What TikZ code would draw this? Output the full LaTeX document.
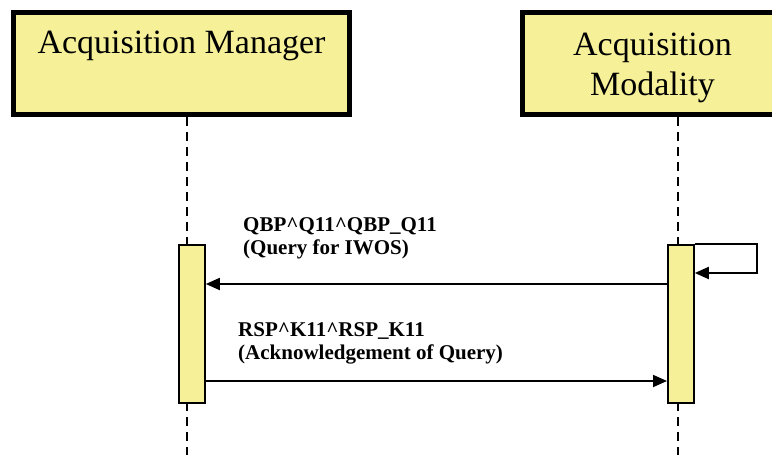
\documentclass[tikz,border=0pt]{standalone}
\usepackage{fontspec}
\setmainfont{Liberation Serif}
\usetikzlibrary{arrows.meta}
\definecolor{boxyellow}{RGB}{246,241,152}

\begin{document}
\begin{tikzpicture}[x=1pt,y=-1pt]
  \tikzset{actor/.style={draw,line width=4.5pt,fill=boxyellow,align=center,inner sep=0pt,font=\fontsize{34}{40}\selectfont},
    activation/.style={draw,line width=1.8pt,fill=boxyellow,anchor=north west,minimum width=26pt,minimum height=158pt,inner sep=0pt},
    lifeline/.style={line width=1.8pt,dash pattern=on 9pt off 6pt},
    msg/.style={line width=1.8pt,-{Triangle[length=14pt,width=12pt]}},
    msglabel/.style={anchor=north west,align=left,inner sep=0pt,font=\fontsize{21}{23}\selectfont\bfseries}}
  \useasboundingbox (0,0) rectangle (772,455);
  \clip (0,0) rectangle (772,455);

  % participants
  \node[actor,minimum width=336pt,minimum height=102pt] (mgr) at (181.5,63.5) {\rule{0pt}{32pt}Acquisition Manager\\ \strut};
  \node[actor,minimum width=260pt,minimum height=102pt] (mod) at (652.5,63.5) {\rule{0pt}{31pt}Acquisition\\Modality};

  % lifelines
  \coordinate (mgrTop) at (187,117);
  \coordinate (modTop) at (678,117);
  \coordinate (bottom) at (0,460);
  \draw[lifeline] (mgrTop) -- (mgrTop |- bottom);
  \draw[lifeline] (modTop) -- (modTop |- bottom);

  % activations
  \node[activation] (actMgr) at (178,244) {};
  \node[activation] (actMod) at (667,244) {};

  % messages
  \coordinate (loopY) at (0,273);
  \coordinate (queryY) at (0,284);
  \coordinate (ackY) at (0,381);
  \draw[msg] (actMod.north east) -- ++(62,0) |- (actMod.east |- loopY);
  \draw[msg] (actMod.west |- queryY) -- (actMgr.east |- queryY);
  \draw[msg] (actMgr.east |- ackY) -- (actMod.west |- ackY);

  \node[msglabel] (queryLabel) at (243,217) {QBP\textasciicircum Q11\textasciicircum QBP\_Q11\\(Query for IWOS)};
  \node[msglabel] (ackLabel) at (238,322) {RSP\textasciicircum K11\textasciicircum RSP\_K11\\(Acknowledgement of Query)};
\end{tikzpicture}
\end{document}
